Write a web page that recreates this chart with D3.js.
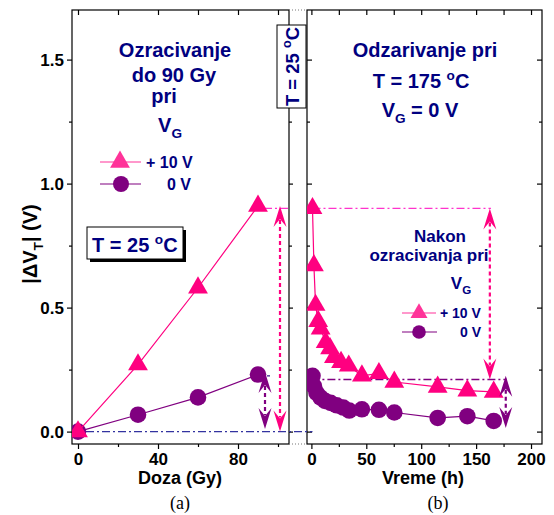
<!DOCTYPE html>
<html>
<head>
<meta charset="utf-8">
<script src="https://cdn.jsdelivr.net/npm/d3@7"></script>
<style>
  body { margin: 0; background: #fff; }
  svg { display: block; }
  text { font-family: "Liberation Sans", Arial, sans-serif; font-weight: bold; }
</style>
</head>
<body>
<div id="chart"></div>
<script>
// (a) irradiation
const doseGy = [0, 30, 60, 90];
const irrPlus10 = [0, 0.27, 0.58, 0.91];
const irrZero = [0, 0.068, 0.138, 0.23];

// (b) annealing at 175 C
const hoursPlus10 = [1, 2.3, 3.8, 6.2, 8.4, 13, 17, 20.5, 27, 34, 46, 61.5, 75.5, 115, 142, 166];
const annealPlus10 = [0.90, 0.67, 0.51, 0.445, 0.415, 0.36, 0.335, 0.30, 0.28, 0.265, 0.225, 0.235, 0.20, 0.18, 0.165, 0.16];
const hoursZero = [1, 2.3, 4.7, 8.4, 12.4, 17.5, 23, 29, 34.5, 46, 61.5, 75.5, 115, 142, 166];
const annealZero = [0.225, 0.183, 0.156, 0.137, 0.124, 0.116, 0.106, 0.097, 0.085, 0.09, 0.088, 0.077, 0.055, 0.062, 0.043];

const yMajor = [0, 0.5, 1.0, 1.5];
const yMinor = [0.25, 0.75, 1.25];
const doseMajor = [0, 40, 80];
const doseMinor = [20, 60, 100];
const timeMajor = [0, 50, 100, 150, 200];
const timeMinor = [25, 75, 125, 175];

// annotation arrows: [x, from, to]
const arrowsA = [[101, 0.91, 0, "pink"], [93.5, 0.24, 0.01, "purple"]];
const arrowsB = [[162.5, 0.90, 0.21, "pink"], [177, 0.225, 0.015, "purple"]];

const pink = "#ff0080", purple = "#800080", navy = "#000080";
const col = {pink: pink, purple: purple};

const svg = d3.select("#chart").append("svg").attr("width", 554).attr("height", 515);

const y = d3.scaleLinear([-0.05, 1.70], [444, 10]);
const xL = d3.scaleLinear([-3, 105.5], [72, 289]);
const xR = d3.scaleLinear([-4, 210], [307, 542]);

const defs = svg.append("defs");
defs.append("clipPath").attr("id", "clipA").append("rect").attr("x", 72).attr("y", 10).attr("width", 217).attr("height", 434);
defs.append("clipPath").attr("id", "clipB").append("rect").attr("x", 307).attr("y", 10).attr("width", 235).attr("height", 434);

function rich(g, x, yy, fs, parts, anchor, fill) {
  const t = g.append("text").attr("x", x).attr("y", yy).attr("font-size", fs)
    .attr("text-anchor", anchor || "middle").attr("fill", fill || navy);
  let shift = 0;
  parts.forEach(p => {
    const target = p.sub ? 0.3 * fs : p.sup ? -0.42 * fs : 0;
    t.append("tspan").attr("dy", target - shift)
      .attr("font-size", p.sub || p.sup ? fs * 0.68 : fs).text(p.t);
    shift = target;
  });
  return t;
}

function axis(ax, transform, labels) {
  const g = svg.append("g").attr("transform", transform).call(ax);
  g.select(".domain").remove();
  g.selectAll("line").attr("stroke-width", 1.2);
  g.attr("font-size", 17).attr("font-family", null);
  if (!labels) g.selectAll("text").remove();
  return g;
}

// ---- axes / ticks
axis(d3.axisLeft(y).tickValues(yMajor).tickFormat(d3.format(".1f")).tickSize(5).tickPadding(3), "translate(72,0)", true);
axis(d3.axisLeft(y).tickValues(yMinor).tickSize(3), "translate(72,0)");
axis(d3.axisRight(y).tickValues(yMajor).tickSize(4), "translate(289,0)");
axis(d3.axisRight(y).tickValues(yMinor).tickSize(3), "translate(289,0)");
axis(d3.axisBottom(xL).tickValues(doseMajor).tickSize(5).tickPadding(4), "translate(0,444)", true);
axis(d3.axisBottom(xL).tickValues(doseMinor).tickSize(3), "translate(0,444)");
axis(d3.axisTop(xL).tickValues(doseMajor.concat(doseMinor)).tickSize(-5), "translate(0,10)");

axis(d3.axisRight(y).tickValues(yMajor).tickSize(5), "translate(307,0)");
axis(d3.axisRight(y).tickValues(yMinor).tickSize(3), "translate(307,0)");
axis(d3.axisLeft(y).tickValues(yMajor).tickSize(5), "translate(542,0)");
axis(d3.axisLeft(y).tickValues(yMinor).tickSize(3), "translate(542,0)");
axis(d3.axisBottom(xR).tickValues(timeMajor).tickSize(5).tickPadding(4), "translate(0,444)", true);
axis(d3.axisBottom(xR).tickValues(timeMinor).tickSize(3), "translate(0,444)");
axis(d3.axisTop(xR).tickValues(timeMajor.concat(timeMinor)).tickSize(-5), "translate(0,10)");

// ---- frames
svg.append("rect").attr("x", 72).attr("y", 10).attr("width", 217).attr("height", 434)
  .attr("fill", "none").attr("stroke", "#000").attr("stroke-width", 1.2);
svg.append("rect").attr("x", 307).attr("y", 10).attr("width", 235).attr("height", 434)
  .attr("fill", "none").attr("stroke", "#000").attr("stroke-width", 1.2);
[10, 444].forEach(v => svg.append("line").attr("x1", 289).attr("x2", 307).attr("y1", v).attr("y2", v)
  .attr("stroke", "#777").attr("stroke-dasharray", "1,2"));

// ---- reference dash-dot lines
const dashDot = "8,3,2,3";
svg.append("line").attr("x1", xL(4)).attr("x2", xR(1)).attr("y1", y(0)).attr("y2", y(0))
  .attr("stroke", "#3333a0").attr("stroke-width", 1.3).attr("stroke-dasharray", dashDot);
svg.append("line").attr("x1", xL(93)).attr("x2", xL(105.5)).attr("y1", y(0.9)).attr("y2", y(0.9))
  .attr("stroke", "#ff33cc").attr("stroke-width", 1.3).attr("stroke-dasharray", dashDot);
svg.append("line").attr("x1", xL(90)).attr("x2", xL(96)).attr("y1", y(0.225)).attr("y2", y(0.225))
  .attr("stroke", "#3a1a8a").attr("stroke-width", 1.3).attr("stroke-dasharray", "6,3");
svg.append("line").attr("x1", xR(1)).attr("x2", xR(163.5)).attr("y1", y(0.9)).attr("y2", y(0.9))
  .attr("stroke", "#ff33cc").attr("stroke-width", 1.3).attr("stroke-dasharray", dashDot);
svg.append("line").attr("x1", xR(0)).attr("x2", xR(178)).attr("y1", y(0.21)).attr("y2", y(0.21))
  .attr("stroke", purple).attr("stroke-width", 1.3).attr("stroke-dasharray", dashDot);

// ---- series
const tri = d3.symbol(d3.symbolTriangle, 170);
function series(clip, x, xs, ys, color, shape) {
  const g = svg.append("g").attr("clip-path", `url(#${clip})`);
  const pts = xs.map((v, i) => [x(v), y(ys[i])]);
  g.append("path").attr("d", d3.line()(pts)).attr("fill", "none").attr("stroke", color).attr("stroke-width", 1.2);
  if (shape === "circle") {
    g.selectAll("circle").data(pts).join("circle").attr("cx", d => d[0]).attr("cy", d => d[1])
      .attr("r", 8.3).attr("fill", color);
  } else {
    g.selectAll("path.m").data(pts).join("path").attr("class", "m").attr("d", tri)
      .attr("transform", d => `translate(${d[0]},${d[1]})`).attr("fill", color);
  }
}
series("clipA", xL, doseGy, irrZero, purple, "circle");
series("clipA", xL, doseGy, irrPlus10, pink, "tri");
series("clipB", xR, hoursZero, annealZero, purple, "circle");
series("clipB", xR, hoursPlus10, annealPlus10, pink, "tri");

// ---- double arrows
function head(px, tip, dir, color) {
  // dir = 1 pointing up, -1 pointing down
  const h = 21, n = 13, w = 6.5;
  svg.append("path").attr("fill", color)
    .attr("d", `M${px},${tip}L${px + w},${tip + dir * h}L${px},${tip + dir * n}L${px - w},${tip + dir * h}Z`);
}
function arrows(x, list) {
  list.forEach(([xv, a, b, c]) => {
    const px = x(xv), c1 = col[c];
    svg.append("line").attr("x1", px).attr("x2", px).attr("y1", y(a) + 14).attr("y2", y(b) - 14)
      .attr("stroke", c1).attr("stroke-width", 2.2).attr("stroke-dasharray", "4,3");
    head(px, y(a), 1, c1);
    head(px, y(b), -1, c1);
  });
}
arrows(xL, arrowsA);
arrows(xR, arrowsB);

// ---- texts left panel
[["Ozracivanje", 175, 57], ["do 90 Gy", 174, 82], ["pri", 164, 103]].forEach(([s, x, yy]) =>
  rich(svg, x, yy, 20, [{t: s}]));
rich(svg, 170, 132, 20, [{t: "V"}, {t: "G", sub: true}]);

function legend(x0, x1, mx, yy, tx, fs, label, color, shape, msize) {
  svg.append("line").attr("x1", x0).attr("x2", x1).attr("y1", yy).attr("y2", yy).attr("stroke", color).attr("stroke-width", 1.2);
  if (shape === "circle") svg.append("circle").attr("cx", mx).attr("cy", yy).attr("r", msize).attr("fill", color);
  else svg.append("path").attr("d", d3.symbol(d3.symbolTriangle, msize)).attr("transform", `translate(${mx},${yy})`).attr("fill", color);
  rich(svg, tx, yy + fs * 0.36, fs, [{t: label}], "start");
}
legend(100, 141, 120, 162, 146, 16, "+ 10 V", "#ff3399", "tri", 170);
legend(100, 141, 121, 184, 167, 16, "0 V", purple, "circle", 8);

// boxed T = 25 C
svg.append("rect").attr("x", 90).attr("y", 230).attr("width", 96).attr("height", 32).attr("fill", "#000");
svg.append("rect").attr("x", 87).attr("y", 227).attr("width", 96).attr("height", 32)
  .attr("fill", "#fff").attr("stroke", "#000").attr("stroke-width", 1);
rich(svg, 92, 252, 20, [{t: "T = 25 "}, {t: "o", sup: true}, {t: "C"}], "start");

// rotated box in the gap
svg.append("rect").attr("x", 277).attr("y", 25).attr("width", 29).attr("height", 83)
  .attr("fill", "#fff").attr("stroke", "#000").attr("stroke-width", 1);
rich(svg.append("g").attr("transform", "translate(299,66.5) rotate(-90)"), 0, 0, 18.5,
  [{t: "T = 25 "}, {t: "o", sup: true}, {t: "C"}]);

// ---- texts right panel
rich(svg, 425, 57, 20, [{t: "Odzarivanje pri"}]);
rich(svg, 421, 88, 20, [{t: "T = 175 "}, {t: "o", sup: true}, {t: "C"}]);
rich(svg, 420, 117, 20, [{t: "V"}, {t: "G", sub: true}, {t: "  = 0 V"}]);
rich(svg, 440, 242, 17, [{t: "Nakon"}]);
rich(svg, 429, 261, 17, [{t: "ozracivanja pri"}]);
rich(svg, 461, 289, 17, [{t: "V"}, {t: "G", sub: true}]);
legend(402, 436, 419, 313, 440, 14, "+ 10 V", "#ff3399", "tri", 125);
legend(402, 437, 419, 332, 460, 14, "0 V", purple, "circle", 6.8);

// ---- axis titles
rich(svg.append("g").attr("transform", "translate(37,244) rotate(-90)"), 0, 0, 20,
  [{t: "|\u0394V"}, {t: "T", sub: true}, {t: "| (V)"}], "middle", "#000");
rich(svg, 180, 484, 18, [{t: "Doza (Gy)"}], "middle", "#000");
rich(svg, 423, 484, 18, [{t: "Vreme (h)"}], "middle", "#000");
svg.append("text").attr("x", 180).attr("y", 509).attr("text-anchor", "middle").attr("font-size", 18)
  .style("font-family", "'Liberation Serif', 'Times New Roman', serif").style("font-weight", "normal").text("(a)");
svg.append("text").attr("x", 438).attr("y", 509).attr("text-anchor", "middle").attr("font-size", 18)
  .style("font-family", "'Liberation Serif', 'Times New Roman', serif").style("font-weight", "normal").text("(b)");
</script>
</body>
</html>
